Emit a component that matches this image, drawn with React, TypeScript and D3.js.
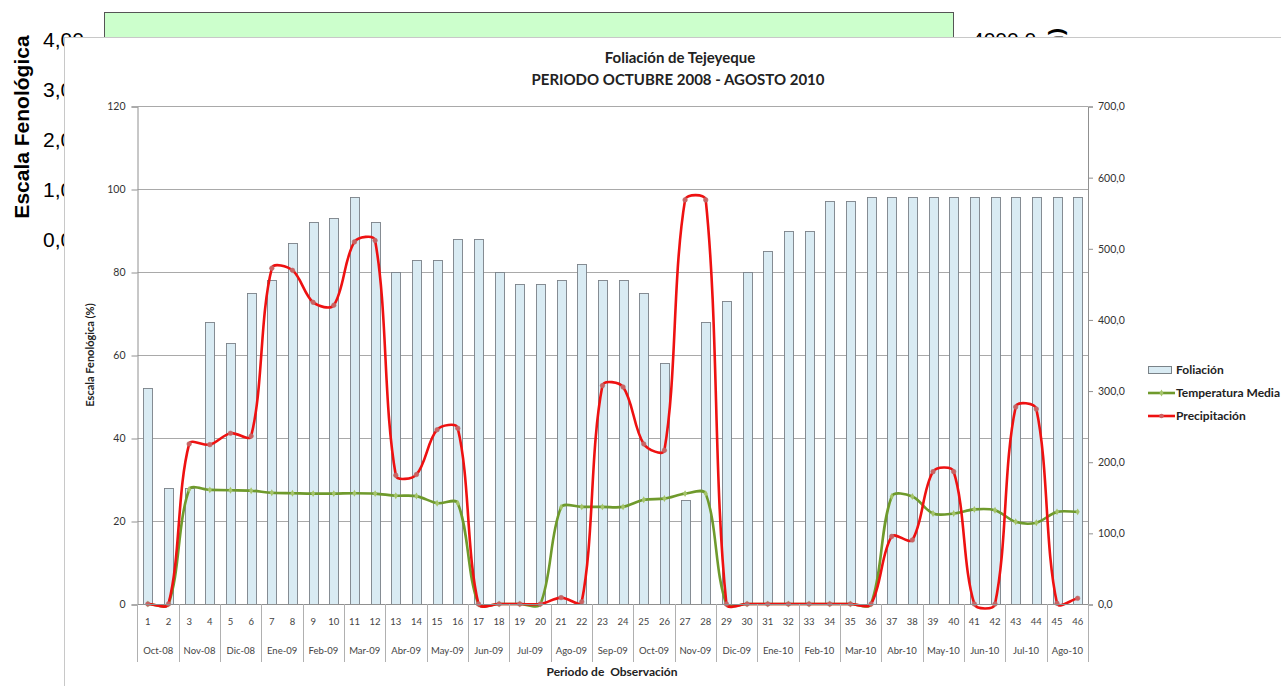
import React, { useEffect, useRef } from 'react';
import * as d3 from 'd3';

// periodo de observacion (1..46) and the month each pair falls in
const periods = [
  '1', '2', '3', '4', '5', '6', '7', '8', '9', '10', '11', '12', '13', '14', '15', '16',
  '17', '18', '19', '20', '21', '22', '23', '24', '25', '26', '27', '28', '29', '30', '31',
  '32', '33', '34', '35', '36', '37', '38', '39', '40', '41', '42', '43', '44', '45', '46',
];
const months = [
  'Oct-08', 'Nov-08', 'Dic-08', 'Ene-09', 'Feb-09', 'Mar-09', 'Abr-09', 'May-09',
  'Jun-09', 'Jul-09', 'Ago-09', 'Sep-09', 'Oct-09', 'Nov-09', 'Dic-09', 'Ene-10',
  'Feb-10', 'Mar-10', 'Abr-10', 'May-10', 'Jun-10', 'Jul-10', 'Ago-10',
];

// Foliación (%) - left axis
const foliacion = [
  52, 28, 28, 68, 63, 75, 78, 87, 92, 93, 98, 92, 80, 83, 83, 88, 88, 80, 77, 77, 78, 82, 78,
  78, 75, 58, 25, 68, 73, 80, 85, 90, 90, 97, 97, 98, 98, 98, 98, 98, 98, 98, 98, 98, 98, 98,
];
// Temperatura media - left axis
const temperatura = [
  0, 0, 27.6, 27.5, 27.4, 27.3, 26.8, 26.7, 26.6, 26.6, 26.7, 26.6, 26.1, 26.0, 24.3, 24.3,
  0, 0, 0, 0, 23.3, 23.4, 23.4, 23.4, 25.1, 25.4, 26.6, 26.6, 0, 0, 0, 0, 0, 0, 0, 0,
  25.9, 25.9, 21.8, 21.8, 22.8, 22.6, 19.8, 19.6, 22.2, 22.2,
];
// Precipitación (mm) - right axis
const precipitacion = [
  0, 0, 225, 224, 240, 236, 472, 469, 424, 420, 509, 511, 181, 182, 245, 247, 0, 0, 0, 0, 9,
  3, 307, 305, 225, 216, 568, 568, 0, 0, 0, 0, 0, 0, 0, 0, 95, 90, 186, 186, 0, 0, 277, 274,
  1, 8,
];

const leftTicks = [0, 20, 40, 60, 80, 100, 120];
const rightTicks = [0, 100, 200, 300, 400, 500, 600, 700];
// the chart that sits behind the pasted picture
const backTicks = [4, 3, 2, 1, 0];

const legendItems = ['Foliación', 'Temperatura Media', 'Precipitación'];

const W = 1281,
  H = 686;
const CAL = 'Lato, "Open Sans", sans-serif';
const ARIAL = '"Liberation Sans", Arial, sans-serif';

const text = (g, x, y, str, size, opts = {}) => {
  const t = g
    .append('text')
    .attr('x', x)
    .attr('y', y)
    .attr('font-family', opts.family || CAL)
    .attr('font-size', size)
    .attr('font-weight', opts.weight || 'normal')
    .attr('fill', opts.fill || '#222')
    .attr('text-anchor', opts.anchor || 'start')
    .text(str);
  if (opts.rotate) t.attr('transform', 'rotate(' + opts.rotate + ',' + x + ',' + y + ')');
  return t;
};

// excel style smoothed line: bezier with tangents weighted by segment length
const smoothPath = (pts) => {
  const p = d3.path();
  const n = pts.length;
  const dist = (a, b) => Math.hypot(b[0] - a[0], b[1] - a[1]);
  p.moveTo(pts[0][0], pts[0][1]);
  for (let i = 0; i < n - 1; i++) {
    const p0 = pts[Math.max(i - 1, 0)],
      p1 = pts[i],
      p2 = pts[i + 1],
      p3 = pts[Math.min(i + 2, n - 1)];
    const d01 = dist(p0, p1),
      d12 = dist(p1, p2),
      d23 = dist(p2, p3);
    const f1 = d01 + d12 > 0 ? d12 / (d01 + d12) / 3 : 0;
    const f2 = d12 + d23 > 0 ? d12 / (d12 + d23) / 3 : 0;
    p.bezierCurveTo(
      p1[0] + (p2[0] - p0[0]) * f1,
      p1[1] + (p2[1] - p0[1]) * f1,
      p2[0] - (p3[0] - p1[0]) * f2,
      p2[1] - (p3[1] - p1[1]) * f2,
      p2[0],
      p2[1]
    );
  }
  return p.toString();
};

const App = () => {
  const ref = useRef(null);

  useEffect(() => {
    const svg = d3.select(ref.current);
    svg.selectAll('*').remove();

    // --- background chart, mostly hidden ---
    const back = svg.append('g');
    back
      .append('rect')
      .attr('x', 104.5)
      .attr('y', 12.5)
      .attr('width', 849)
      .attr('height', 120)
      .attr('fill', '#ccffcc')
      .attr('stroke', '#555');

    const yBack = d3.scaleLinear().domain([0, 4]).range([247, 47]);
    backTicks.forEach((v) => {
      text(back, 43, yBack(v), d3.format('.2f')(v).replace('.', ','), 21, { family: ARIAL, fill: '#000' });
    });
    text(back, 972, 47, '4000,0', 21, { family: ARIAL, fill: '#000' });
    text(back, 28.5, 127, 'Escala Fenológica', 21, {
      family: ARIAL,
      weight: 'bold',
      fill: '#000',
      anchor: 'middle',
      rotate: -90,
    });
    text(back, 1063, 28, 'Precipitación (mm)', 21, {
      family: ARIAL,
      weight: 'bold',
      fill: '#000',
      anchor: 'end',
      rotate: -90,
    });

    // --- pasted excel chart ---
    svg
      .append('rect')
      .attr('x', 64.5)
      .attr('y', 37.5)
      .attr('width', 1240)
      .attr('height', 680)
      .attr('fill', '#fff')
      .attr('stroke', '#c8c8c8');

    text(svg, 680, 63, 'Foliación de Tejeyeque', 15, { weight: 'bold', anchor: 'middle' });
    text(svg, 678, 85, 'PERIODO OCTUBRE 2008 - AGOSTO 2010', 15, { weight: 'bold', anchor: 'middle' });

    const x0 = 137.5,
      x1 = 1088,
      yTop = 106,
      yBot = 604;
    const x = d3.scaleBand().domain(periods).range([x0, x1]);
    const xc = (i) => x(periods[i]) + x.bandwidth() / 2;
    const yL = d3.scaleLinear().domain([0, 120]).range([yBot, yTop]);
    const yR = d3.scaleLinear().domain([0, 700]).range([yBot, yTop]);

    // gridlines
    svg
      .append('g')
      .selectAll('line')
      .data(leftTicks)
      .join('line')
      .attr('x1', x0)
      .attr('x2', x1)
      .attr('y1', (d) => Math.round(yL(d)) + 0.5)
      .attr('y2', (d) => Math.round(yL(d)) + 0.5)
      .attr('stroke', '#a9a9a9');

    // axes
    const axL = svg
      .append('g')
      .attr('transform', 'translate(' + x0 + ',0.5)')
      .call(d3.axisLeft(yL).tickValues(leftTicks).tickSize(6).tickPadding(6).tickFormat(d3.format('d')));
    const axR = svg
      .append('g')
      .attr('transform', 'translate(' + x1 + ',0.5)')
      .call(
        d3
          .axisRight(yR)
          .tickValues(rightTicks)
          .tickSize(5)
          .tickPadding(5)
          .tickFormat((d) => d3.format('.1f')(d).replace('.', ','))
      );
    [axL, axR].forEach((ax) => {
      ax.selectAll('path, line').attr('stroke', '#909090');
      ax.selectAll('text').attr('font-family', CAL).attr('font-size', 10.5).attr('fill', '#333');
    });

    // bars
    const bw = 9;
    svg
      .append('g')
      .selectAll('rect')
      .data(foliacion)
      .join('rect')
      .attr('x', (d, i) => Math.round(xc(i) - bw / 2) + 0.5)
      .attr('y', (d) => Math.round(yL(d)) + 0.5)
      .attr('width', bw)
      .attr('height', (d) => yBot - Math.round(yL(d)))
      .attr('fill', '#d9ebf3')
      .attr('stroke', '#7a8288')
      .attr('stroke-width', 0.9);

    // lines
    const tPts = temperatura.map((d, i) => [xc(i), yL(d)]);
    const pPts = precipitacion.map((d, i) => [xc(i), yR(d)]);

    svg
      .append('path')
      .attr('d', smoothPath(tPts))
      .attr('fill', 'none')
      .attr('stroke', '#6f9a2c')
      .attr('stroke-width', 2.6);
    svg
      .append('g')
      .selectAll('path')
      .data(tPts)
      .join('path')
      .attr('d', d3.symbol(d3.symbolDiamond, 14))
      .attr('transform', (d) => 'translate(' + d[0] + ',' + d[1] + ')')
      .attr('fill', '#a4c46a');

    svg
      .append('path')
      .attr('d', smoothPath(pPts))
      .attr('fill', 'none')
      .attr('stroke', '#ee1111')
      .attr('stroke-width', 2.6);
    svg
      .append('g')
      .selectAll('circle')
      .data(pPts)
      .join('circle')
      .attr('cx', (d) => d[0])
      .attr('cy', (d) => d[1])
      .attr('r', 2.3)
      .attr('fill', '#d06060')
      .attr('stroke', '#b07070')
      .attr('stroke-width', 0.6);

    // category axis
    const xa = svg.append('g');
    xa.append('line')
      .attr('x1', x0)
      .attr('x2', x1)
      .attr('y1', yBot + 0.5)
      .attr('y2', yBot + 0.5)
      .attr('stroke', '#909090');
    periods.forEach((p, i) => {
      text(xa, xc(i), 625, p, 9.5, { anchor: 'middle', fill: '#444' });
    });
    months.forEach((m, k) => {
      const left = x(periods[k * 2]);
      text(xa, left + x.step(), 654, m, 9.5, { anchor: 'middle', fill: '#444' });
      xa.append('line')
        .attr('x1', Math.round(left) + 0.5)
        .attr('x2', Math.round(left) + 0.5)
        .attr('y1', yBot)
        .attr('y2', 662)
        .attr('stroke', '#b0b0b0');
    });
    xa.append('line')
      .attr('x1', x1 + 0.5)
      .attr('x2', x1 + 0.5)
      .attr('y1', yBot)
      .attr('y2', 662)
      .attr('stroke', '#b0b0b0');

    text(svg, 612, 676, 'Periodo de  Observación', 12, { weight: 'bold', anchor: 'middle' }).attr(
      'xml:space',
      'preserve'
    );
    text(svg, 94, 355, 'Escala Fenológica (%)', 11, { weight: 'bold', anchor: 'middle', rotate: -90 });

    // legend
    const lg = svg.append('g');
    lg.append('rect')
      .attr('x', 1148.5)
      .attr('y', 366.5)
      .attr('width', 23)
      .attr('height', 7)
      .attr('fill', '#d9ebf3')
      .attr('stroke', '#7a8288');
    lg.append('line')
      .attr('x1', 1148)
      .attr('x2', 1175)
      .attr('y1', 393)
      .attr('y2', 393)
      .attr('stroke', '#6f9a2c')
      .attr('stroke-width', 2.6);
    lg.append('path')
      .attr('d', d3.symbol(d3.symbolDiamond, 14))
      .attr('transform', 'translate(1161.5,393)')
      .attr('fill', '#a4c46a');
    lg.append('line')
      .attr('x1', 1148)
      .attr('x2', 1175)
      .attr('y1', 416)
      .attr('y2', 416)
      .attr('stroke', '#ee1111')
      .attr('stroke-width', 2.6);
    lg.append('circle').attr('cx', 1161.5).attr('cy', 416).attr('r', 2.3).attr('fill', '#d06060');
    legendItems.forEach((s, i) => {
      text(lg, 1176, 374 + i * 23, s, 12, { weight: 'bold' });
    });
  }, []);

  return <svg ref={ref} width={W} height={H} style={{ position: 'absolute', left: 0, top: 0 }} />;
};

export default App;
